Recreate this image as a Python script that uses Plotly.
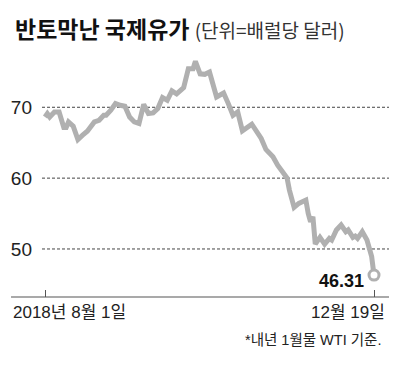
import plotly.graph_objects as go

# WTI (January contract) closing prices, 2018-08-01 .. 2018-12-19
dates = [
    "2018-08-01", "2018-08-02", "2018-08-03", "2018-08-05", "2018-08-07", "2018-08-09",
    "2018-08-10", "2018-08-11", "2018-08-13", "2018-08-15", "2018-08-17", "2018-08-19",
    "2018-08-22", "2018-08-24", "2018-08-26", "2018-08-27", "2018-08-29", "2018-08-31",
    "2018-09-02", "2018-09-04", "2018-09-06", "2018-09-08", "2018-09-10", "2018-09-12",
    "2018-09-14", "2018-09-16", "2018-09-18", "2018-09-20", "2018-09-22", "2018-09-24",
    "2018-09-26", "2018-09-29", "2018-10-01", "2018-10-03", "2018-10-04", "2018-10-06",
    "2018-10-08", "2018-10-10", "2018-10-13", "2018-10-16", "2018-10-18", "2018-10-20",
    "2018-10-22", "2018-10-24", "2018-10-28", "2018-10-30", "2018-11-01", "2018-11-03",
    "2018-11-06", "2018-11-08", "2018-11-10", "2018-11-12", "2018-11-13", "2018-11-15",
    "2018-11-17", "2018-11-20", "2018-11-21", "2018-11-22", "2018-11-23", "2018-11-24",
    "2018-11-26", "2018-11-28", "2018-11-30", "2018-12-01", "2018-12-03", "2018-12-05",
    "2018-12-07", "2018-12-08", "2018-12-10", "2018-12-11", "2018-12-12", "2018-12-14",
    "2018-12-16", "2018-12-17", "2018-12-18", "2018-12-19",
]
prices = [
    68.63, 69.11, 68.63, 69.34, 69.34, 67.14,
    67.14, 67.93, 67.32, 65.45, 66.06, 66.62,
    67.93, 68.17, 68.87, 68.87, 69.58, 70.52,
    70.28, 70.14, 68.63, 67.93, 67.70, 70.42,
    69.11, 69.20, 69.82, 71.37, 70.99, 72.32,
    71.90, 72.77, 75.45, 75.45, 76.48, 74.72,
    74.65, 74.97, 71.45, 72.01, 70.52, 68.87,
    69.34, 66.67, 67.61, 66.53, 65.60, 64.05,
    63.00, 61.83, 60.75, 60.00, 58.31, 55.87,
    56.43, 56.90, 55.02, 53.84, 54.54, 50.69,
    51.64, 50.69, 51.50, 51.27, 52.68, 53.38,
    52.43, 52.68, 51.64, 51.83, 51.50, 52.43,
    51.27, 49.86, 48.92, 46.31,
]
y_ticks = [50, 60, 70]
x_tick_dates = ["2018-08-01", "2018-12-19"]
x_tick_labels = ["2018년 8월 1일", "12월 19일"]
title_main = "반토막난 국제유가"
title_unit = "(단위=배럴당 달러)"
footnote = "*내년 1월물 WTI 기준."
last_label = "46.31"

NARROW = "Liberation Sans Narrow, Liberation Sans, Noto Sans CJK KR, sans-serif"
KR = "Noto Sans CJK KR, sans-serif"
LINE = "#b0b0b0"
DARK = "#222222"

fig = go.Figure()
fig.add_trace(go.Scatter(
    x=dates, y=prices, mode="lines",
    line=dict(color=LINE, width=5, shape="linear"),
    hoverinfo="skip", showlegend=False,
))
fig.add_trace(go.Scatter(
    x=[dates[-1]], y=[prices[-1]], mode="markers",
    marker=dict(size=10, color="white", line=dict(color=LINE, width=3)),
    hoverinfo="skip", showlegend=False, cliponaxis=False,
))

shapes = []
for v in y_ticks:
    shapes.append(dict(type="line", xref="paper", yref="y", x0=0, x1=1, y0=v, y1=v,
                       line=dict(color="#444444", width=1, dash="3px,2px"), layer="below"))
# baseline extending left of the plot area
shapes.append(dict(type="line", xref="paper", yref="paper", x0=-0.0893, x1=1, y0=0, y1=0,
                   line=dict(color="#555555", width=1.2)))

annotations = [
    dict(xref="paper", yref="paper", x=-0.0836, y=1.113, xanchor="left", yanchor="middle",
         showarrow=False,
         text=f"<b>{title_main}</b> <span style='font-size:19px;color:#333333'>{title_unit}</span>",
         font=dict(family=KR, size=23, color="#111111")),
    dict(xref="paper", yref="paper", x=-0.0893, y=-0.066, xanchor="left", yanchor="middle",
         showarrow=False, text=x_tick_labels[0], font=dict(family=NARROW, size=17, color=DARK)),
    dict(xref="paper", yref="paper", x=0.9942, y=-0.066, xanchor="right", yanchor="middle",
         showarrow=False, text=x_tick_labels[1], font=dict(family=NARROW, size=17, color=DARK)),
    dict(xref="paper", yref="paper", x=0.9827, y=-0.178, xanchor="right", yanchor="middle",
         showarrow=False, text=footnote, font=dict(family=NARROW, size=14.5, color=DARK)),
    dict(xref="x", yref="y", x=dates[-1], y=prices[-1], xanchor="right", yanchor="middle",
         xshift=-8, yshift=-6, showarrow=False, text=f"<b>{last_label}</b>",
         font=dict(family=NARROW, size=18, color="#111111")),
]

fig.update_layout(
    width=400, height=374,
    margin=dict(l=42, r=11, t=55, b=77),
    paper_bgcolor="white", plot_bgcolor="white",
    xaxis=dict(
        type="date", range=["2018-07-30 17:15", "2018-12-25 09:07"],
        showgrid=False, zeroline=False, showline=False,
        tickvals=x_tick_dates, ticktext=["", ""], ticks="inside", ticklen=7,
        tickcolor="#555555", tickwidth=1, showticklabels=False,
    ),
    yaxis=dict(
        range=[43.22, 77.38], showgrid=False, zeroline=False, showline=False,
        tickvals=y_ticks, ticks="", ticklabelstandoff=9,
        tickfont=dict(family=NARROW, size=19, color=DARK),
    ),
    shapes=shapes, annotations=annotations,
)

fig.write_html("out.html", config={"displayModeBar": False},
               post_script="document.body.style.margin='0';")
